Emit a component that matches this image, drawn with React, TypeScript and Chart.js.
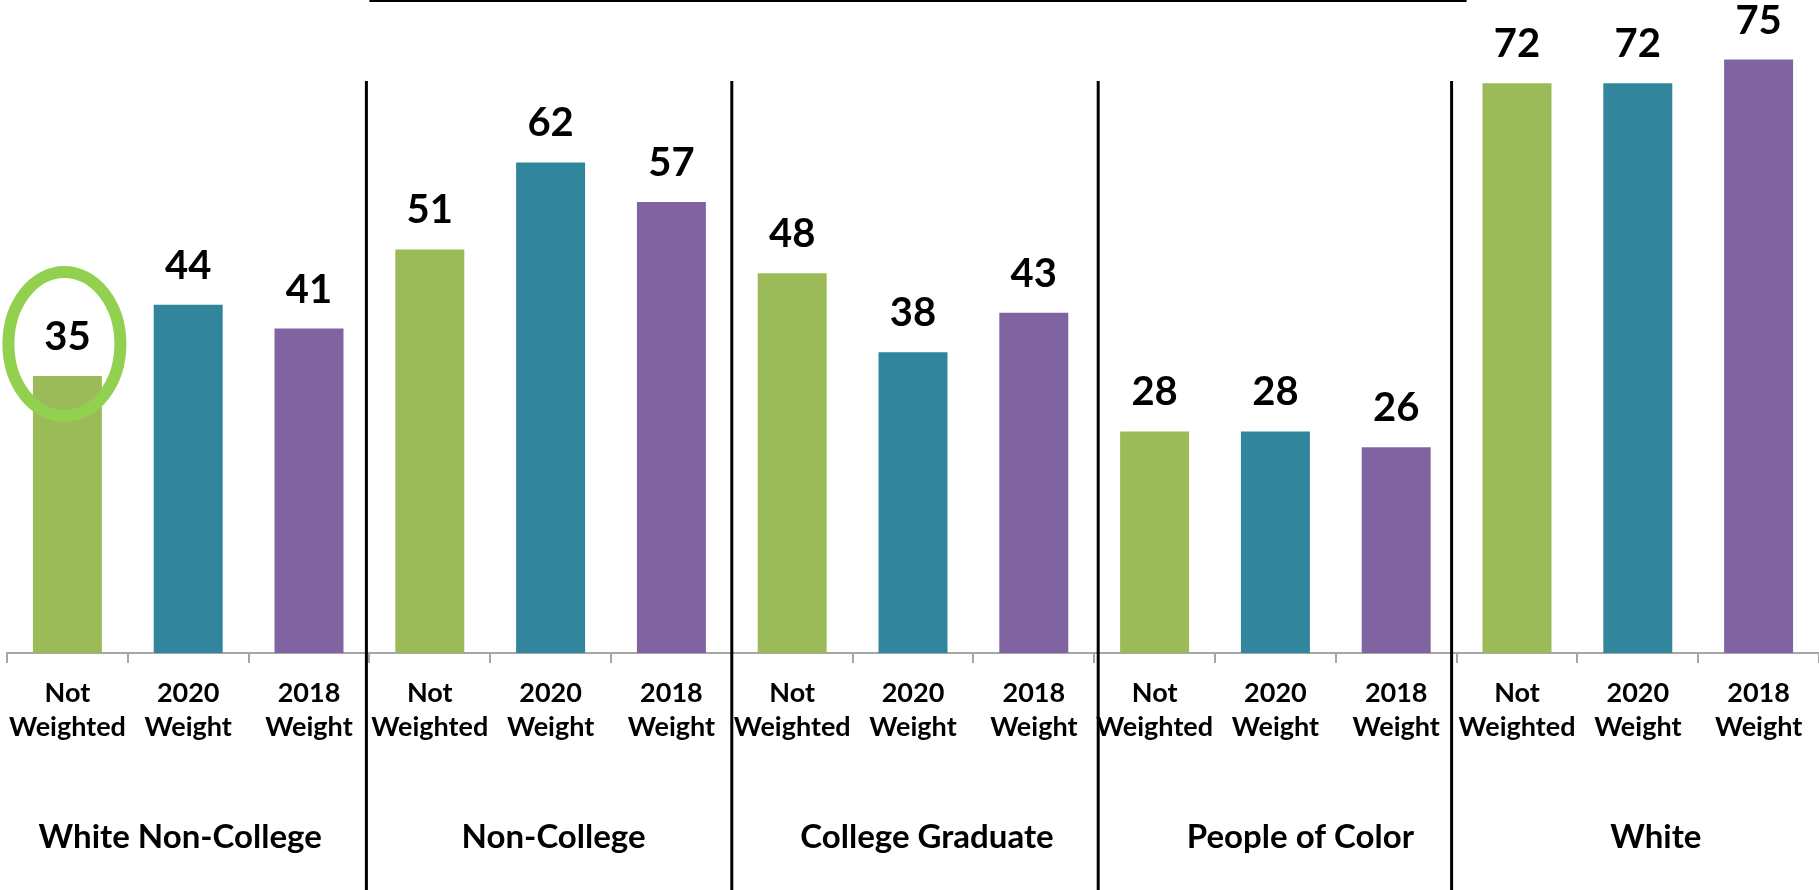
import React, { useEffect, useRef } from "react";
import { Chart, registerables } from "chart.js";

Chart.register(...registerables);

// ---- data ----
const groups = ["White Non-College", "Non-College", "College Graduate", "People of Color", "White"];
const subLabels = [["Not", "Weighted"], ["2020", "Weight"], ["2018", "Weight"]];
const notWeighted = [35, 51, 48, 28, 72];
const weight2020 = [44, 62, 38, 28, 72];
const weight2018 = [41, 57, 43, 26, 75];
const seriesColors = ["#9BBB59", "#31859C", "#8064A2"];
const yMin = 0;
const yMax = 80;

const FONT = "Lato, 'Open Sans', 'DejaVu Sans', sans-serif";

export default function App() {
  const ref = useRef<HTMLCanvasElement>(null);

  useEffect(() => {
    let chart: Chart | null = null;
    let cancelled = false;

    const labels = groups.flatMap(() => subLabels);
    const values = groups.flatMap((_, g) => [notWeighted[g], weight2020[g], weight2018[g]]);
    const colors = groups.flatMap(() => seriesColors);

    const sepOffsets = [-3, 0, 4, -5];
    const groupOffsets = [-8, 3, 14, 25, 18];

    const overlay = {
      id: "overlay",
      afterDatasetsDraw(c: any) {
        const ctx = c.ctx as CanvasRenderingContext2D;
        const xs = c.scales.x;
        const meta = c.getDatasetMeta(0);
        ctx.save();

        // value labels
        ctx.fillStyle = "#000";
        ctx.font = `bold 40px ${FONT}`;
        ctx.textAlign = "center";
        ctx.textBaseline = "alphabetic";
        meta.data.forEach((bar: any, i: number) => {
          ctx.fillText(String(values[i]), bar.x, bar.y - 26);
        });

        // group separators
        ctx.strokeStyle = "#000";
        ctx.lineWidth = 3;
        const seps: number[] = [];
        for (let g = 1; g < groups.length; g++) {
          const px = xs.getPixelForValue(g * 3 - 0.5) + sepOffsets[g - 1];
          seps.push(px);
          ctx.beginPath();
          ctx.moveTo(px, 81);
          ctx.lineTo(px, c.height);
          ctx.stroke();
        }

        // top bracket line
        ctx.lineWidth = 2;
        ctx.beginPath();
        ctx.moveTo(seps[0] + 3, 1);
        ctx.lineTo(seps[seps.length - 1] + 15, 1);
        ctx.stroke();

        // group labels
        ctx.font = `bold 33px ${FONT}`;
        groups.forEach((name, g) => {
          const cx = xs.getPixelForValue(g * 3 + 1) + groupOffsets[g];
          ctx.fillText(name, cx, 848);
        });

        // highlight ellipse around first bar label
        const b0 = meta.data[0];
        ctx.strokeStyle = "#92D050";
        ctx.lineWidth = 12;
        ctx.beginPath();
        ctx.ellipse(b0.x - 3, b0.y - 32, 56, 72, 0, 0, Math.PI * 2);
        ctx.stroke();

        ctx.restore();
      },
    };

    const create = () => {
      if (cancelled || !ref.current) return;
      chart = new Chart(ref.current, {
        type: "bar",
        data: {
          labels,
          datasets: [
            {
              data: values,
              backgroundColor: colors,
              borderWidth: 0,
              barPercentage: 0.571,
              categoryPercentage: 1,
            },
          ],
        },
        options: {
          responsive: false,
          animation: false,
          devicePixelRatio: 1,
          layout: { padding: { left: 7, top: 20, right: 0, bottom: 0 } },
          plugins: {
            legend: { display: false },
            tooltip: { enabled: false },
            title: { display: false },
          },
          scales: {
            x: {
              offset: true,
              grid: {
                display: true,
                drawOnChartArea: false,
                drawTicks: true,
                tickLength: 10,
                color: "#A6A6A6",
                lineWidth: 2,
                offset: true,
              },
              border: { display: true, color: "#A6A6A6", width: 2 },
              ticks: {
                color: "#000",
                font: { family: FONT, size: 27, weight: "bold", lineHeight: 1.27 },
                padding: 13,
                maxRotation: 0,
                autoSkip: false,
              },
              afterFit: (s: any) => {
                s.height = 237;
                s.paddingLeft = 0;
                s.paddingRight = 0;
              },
            },
            y: {
              display: false,
              min: yMin,
              max: yMax,
            },
          },
        },
        plugins: [overlay],
      } as any);
    };

    if ((document as any).fonts && (document as any).fonts.load) {
      Promise.all([
        (document as any).fonts.load(`bold 26px Lato`),
        (document as any).fonts.load(`bold 40px Lato`),
      ]).then(create, create);
    } else {
      create();
    }

    return () => {
      cancelled = true;
      if (chart) chart.destroy();
    };
  }, []);

  return (
    <div style={{ position: "absolute", left: 0, top: 0, width: 1819, height: 890, background: "#fff" }}>
      <canvas ref={ref} width={1819} height={890} />
    </div>
  );
}
